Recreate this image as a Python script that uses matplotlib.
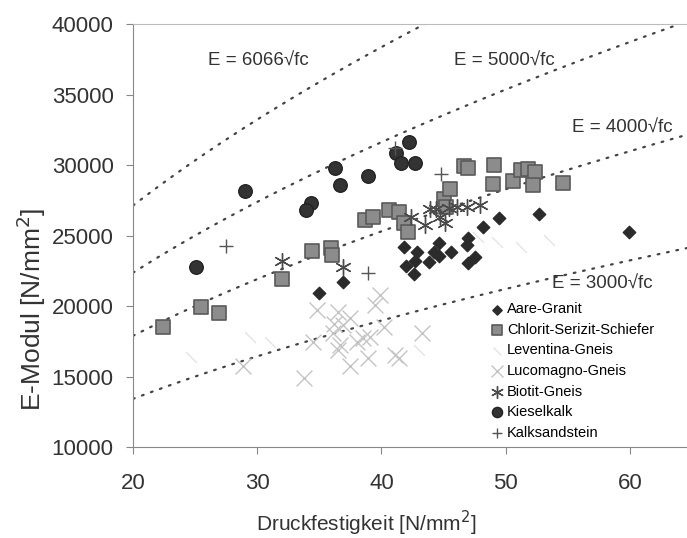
import numpy as np
import matplotlib
matplotlib.use("Agg")
import matplotlib.pyplot as plt

plt.rcParams['font.family'] = ['Liberation Sans', 'DejaVu Sans']

# Druckfestigkeit fc [N/mm2], E-Modul [N/mm2]
aare_fc = [35.0, 36.9, 41.8, 42.0, 42.6, 42.7, 42.9, 43.8, 44.2, 44.6, 44.6, 45.6,
           46.9, 47.0, 47.0, 47.5, 48.2, 49.5, 52.7, 59.9]
aare_E = [20900, 21720, 24210, 22840, 22270, 23200, 23850, 23140, 23850, 24450, 23570, 23850,
          24330, 24800, 23030, 23500, 25580, 26220, 26500, 25230]

chlorit_fc = [22.4, 25.5, 26.95, 32.0, 34.4, 35.9, 36.0, 38.7, 39.3, 40.6, 41.4, 41.8, 42.1,
              45.0, 45.2, 45.5, 46.65, 47.0, 49.1, 49.0, 50.6, 51.2, 51.8, 52.4, 52.2, 54.6]
chlorit_E = [18530, 19950, 19480, 21890, 23920, 24090, 23620, 26100, 26330, 26810, 26690, 25870, 25270,
             27570, 27040, 28270, 29930, 29770, 30000, 28650, 28900, 29650, 29700, 29500, 28580, 28700]

leventina_fc = [24.7, 29.4, 31.0, 43.0, 47.8, 49.3, 51.2, 53.5]
leventina_E = [16360, 17780, 17470, 16880, 24900, 24560, 24200, 24700]

lucomagno_fc = [34.8, 36.5, 39.9, 39.5, 37.5, 36.2, 36.9, 40.2, 38.5, 39.1, 38.0, 36.7,
                36.5, 38.9, 37.5, 41.1, 41.4, 34.5, 33.8, 28.85, 43.3, 36.1]
lucomagno_E = [19700, 19550, 20780, 20100, 19150, 18700, 18650, 18530, 17700, 17820, 17470, 17230,
               16900, 16290, 15780, 16520, 16300, 17450, 14870, 15780, 18060, 18060]

biotit_fc = [32.0, 36.9, 42.4, 43.5, 43.9, 44.4, 45.1, 45.4, 46.1, 46.9, 47.9, 44.7]
biotit_E = [23190, 22790, 26350, 25740, 26860, 26860, 25870, 26930, 27040, 27040, 27160, 26330]

kiesel_fc = [25.1, 29.0, 34.3, 33.9, 36.3, 38.9, 36.7, 42.2, 41.2, 41.6, 42.7]
kiesel_E = [22790, 28160, 27280, 26810, 29770, 29220, 28580, 31650, 30830, 30120, 30170]

kalk_fc = [27.5, 41.1, 44.8, 38.9]
kalk_E = [24255, 31180, 29360, 22320]

factors = [6066, 5000, 4000, 3000]
factor_label_pos = [(26.0, 37380), (45.8, 37380), (55.3, 32590), (53.7, 21560)]

fig = plt.figure(figsize=(6.87, 5.38), dpi=100)
ax = fig.add_axes([0.1936, 0.1691, 0.8137, 0.7862])

fc = np.linspace(20, 65, 200)
for k, (tx, ty) in zip(factors, factor_label_pos):
    ax.plot(fc, k * np.sqrt(fc), color='#444444', lw=1.6, linestyle=(0, (0.8, 3.5)),
            dash_capstyle='round', zorder=1)
    ax.text(tx, ty, 'E = %d\u221afc' % k, fontsize=13.5, color='#333333', va='center', ha='left')

ax.scatter(aare_fc, aare_E, marker='D', s=40, color='#2b2b2b', label='Aare-Granit', zorder=3)
ax.scatter(chlorit_fc, chlorit_E, marker='s', s=105, facecolor='#8c8c8c', edgecolor='#5a5a5a',
           linewidth=1.2, label='Chlorit-Serizit-Schiefer', zorder=3)
ax.scatter(leventina_fc, leventina_E, marker=(2, 0, 45), s=120, color='#e4e4e4', linewidth=1,
           label='Leventina-Gneis', zorder=2)
ax.scatter(lucomagno_fc, lucomagno_E, marker='x', s=130, color='#c4c4c4', linewidth=1,
           label='Lucomagno-Gneis', zorder=2)
ax.scatter(biotit_fc, biotit_E, marker=(6, 2, 0), s=130, color='#4a4a4a', linewidth=1,
           label='Biotit-Gneis', zorder=4)
ax.scatter(kiesel_fc, kiesel_E, marker='o', s=95, facecolor='#333333', edgecolor='#222222',
           label='Kieselkalk', zorder=3)
ax.scatter(kalk_fc, kalk_E, marker='+', s=110, color='#555555', linewidth=1,
           label='Kalksandstein', zorder=4)

ax.set_xlim(20, 65)
ax.set_ylim(10000, 40000)
ax.set_xticks([20, 30, 40, 50, 60])
ax.set_yticks(range(10000, 40001, 5000))
ax.tick_params(axis='both', labelsize=16, colors='#888888', labelcolor='#333333', length=5)
ax.tick_params(axis='y', pad=9)
ax.tick_params(axis='x', pad=14)

for side in ['left', 'bottom']:
    ax.spines[side].set_color('#888888')
ax.spines['top'].set_color('#bbbbbb')
ax.spines['right'].set_visible(False)

ax.set_xlabel('Druckfestigkeit [N/mm$^2$]', fontsize=15, color='#333333')
ax.set_ylabel('E-Modul [N/mm$^2$]', fontsize=19, color='#333333')
ax.xaxis.set_label_coords(0.417, -0.145)
ax.yaxis.set_label_coords(-0.152, 0.325)

ax.legend(loc='upper left', bbox_to_anchor=(0.715, 0.438), bbox_transform=fig.transFigure,
          frameon=False, fontsize=10.5, handlelength=0.8, handletextpad=0.3,
          labelspacing=0.45, borderpad=0, borderaxespad=0, markerscale=0.75)

fig.savefig('out.png', dpi=100)
